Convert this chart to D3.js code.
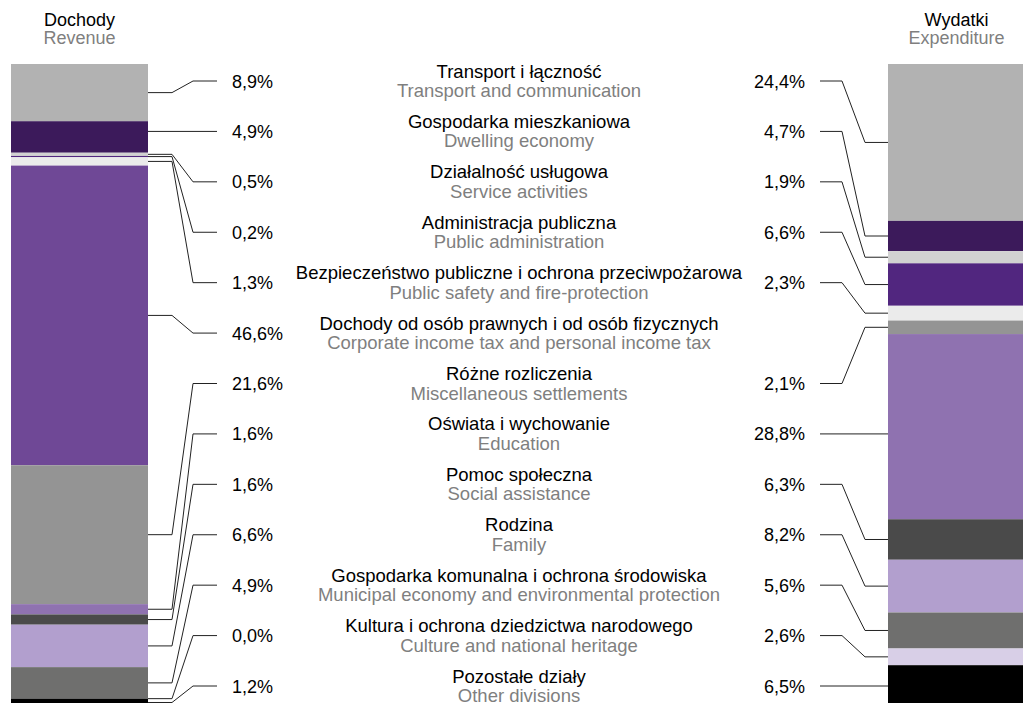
<!DOCTYPE html>
<html>
  <head>
    <meta charset="utf-8">
    <script src="https://cdn.jsdelivr.net/npm/d3@7"></script>
    <title>Dochody i wydatki</title>
    <style>
      body {
        margin: 0;
        background: #fff;
      }
      text {
        font-family: "Liberation Sans", Arial, sans-serif;
        font-size: 18px;
      }
      .name { font-size: 18.5px; }
      .pl { fill: #000; }
      .en { fill: #7f7f7f; }
      .conn {
        fill: none;
        stroke: #222;
        stroke-width: 1;
      }
    </style>
  </head>
  <body>
    <svg width="1023" height="703"></svg>
    <script>
      const namesPl = [
        'Transport i łączność',
        'Gospodarka mieszkaniowa',
        'Działalność usługowa',
        'Administracja publiczna',
        'Bezpieczeństwo publiczne i ochrona przeciwpożarowa',
        'Dochody od osób prawnych i od osób fizycznych',
        'Różne rozliczenia',
        'Oświata i wychowanie',
        'Pomoc społeczna',
        'Rodzina',
        'Gospodarka komunalna i ochrona środowiska',
        'Kultura i ochrona dziedzictwa narodowego',
        'Pozostałe działy'
      ];
      const namesEn = [
        'Transport and communication',
        'Dwelling economy',
        'Service activities',
        'Public administration',
        'Public safety and fire-protection',
        'Corporate income tax and personal income tax',
        'Miscellaneous settlements',
        'Education',
        'Social assistance',
        'Family',
        'Municipal economy and environmental protection',
        'Culture and national heritage',
        'Other divisions'
      ];
      // shares in %, null = no item on that side
      const revenue = [8.9, 4.9, 0.5, 0.2, 1.3, 46.6, 21.6, 1.6, 1.6, 6.6, 4.9, 0.0, 1.2];
      const expenditure = [24.4, 4.7, 1.9, 6.6, 2.3, null, 2.1, 28.8, 6.3, 8.2, 5.6, 2.6, 6.5];
      const colors = ['#b2b2b2', '#3c1a5b', '#d1d1d1', '#51267f', '#ebebeb', '#6f4896',
        '#949494', '#8f72b0', '#4a4a4a', '#b29fce', '#6f6f6e', '#d8cfe7', '#000000'];

      const svg = d3.select('svg');
      const fmt = v => d3.format('.1f')(v).replace('.', ',') + '%';

      const y = d3.scaleLinear().domain([0, 100]).range([64, 707]);
      const row = d3.scalePoint().domain(d3.range(namesPl.length)).range([81, 686]);

      const barW = 137;
      const leftX = 11;
      const rightX = 888;
      const midX = 519;

      function stack(values) {
        let acc = 0;
        return values.map((v, i) => {
          const s = { i: i, v: v, y0: acc, y1: acc + (v || 0) };
          acc += v || 0;
          return s;
        });
      }
      const leftData = stack(revenue);
      const rightData = stack(expenditure).filter(d => d.v !== null);

      // connector end on the bar: middle of segment, snapped to the label row when close
      const segY = d => {
        const m = y((d.y0 + d.y1) / 2);
        return Math.abs(m - row(d.i)) < 9 ? row(d.i) : m;
      };

      // headers
      const head = [
        { x: leftX + barW / 2, pl: 'Dochody', en: 'Revenue' },
        { x: rightX + barW / 2, pl: 'Wydatki', en: 'Expenditure' }
      ];
      head.forEach(h => {
        svg.append('text').attr('class', 'pl').attr('x', h.x).attr('y', 25.5)
          .attr('text-anchor', 'middle').text(h.pl);
        svg.append('text').attr('class', 'en').attr('x', h.x).attr('y', 44)
          .attr('text-anchor', 'middle').text(h.en);
      });

      // bars
      svg.append('g').selectAll('rect').data(leftData)
        .enter().append('rect')
          .attr('x', leftX)
          .attr('y', d => y(d.y0))
          .attr('width', barW)
          .attr('height', d => y(d.y1) - y(d.y0))
          .attr('fill', d => colors[d.i]);

      svg.append('g').selectAll('rect').data(rightData)
        .enter().append('rect')
          .attr('x', rightX)
          .attr('y', d => y(d.y0))
          .attr('width', barW)
          .attr('height', d => y(d.y1) - y(d.y0))
          .attr('fill', d => colors[d.i]);

      // connectors
      const line = d3.line();
      svg.append('g').selectAll('path').data(leftData)
        .enter().append('path')
          .attr('class', 'conn')
          .attr('d', d => line([[leftX + barW, segY(d)], [172, segY(d)], [193, row(d.i)], [217, row(d.i)]]));

      svg.append('g').selectAll('path').data(rightData)
        .enter().append('path')
          .attr('class', 'conn')
          .attr('d', d => line([[820, row(d.i)], [842, row(d.i)], [865, segY(d)], [rightX, segY(d)]]));

      // percentage labels
      svg.append('g').selectAll('text').data(leftData)
        .enter().append('text')
          .attr('x', 232)
          .attr('y', d => row(d.i) + 6.5)
          .text(d => fmt(d.v));

      svg.append('g').selectAll('text').data(rightData)
        .enter().append('text')
          .attr('x', 805)
          .attr('y', d => row(d.i) + 6.5)
          .attr('text-anchor', 'end')
          .text(d => fmt(d.v));

      // category names
      const names = svg.append('g').selectAll('g').data(namesPl)
        .enter().append('g');
      names.append('text')
        .attr('class', 'name pl')
        .attr('x', midX)
        .attr('y', (d, i) => row(i) - 3.5)
        .attr('text-anchor', 'middle')
        .text(d => d);
      names.append('text')
        .attr('class', 'name en')
        .attr('x', midX)
        .attr('y', (d, i) => row(i) + 16)
        .attr('text-anchor', 'middle')
        .text((d, i) => namesEn[i]);
    </script>
  </body>
</html>
